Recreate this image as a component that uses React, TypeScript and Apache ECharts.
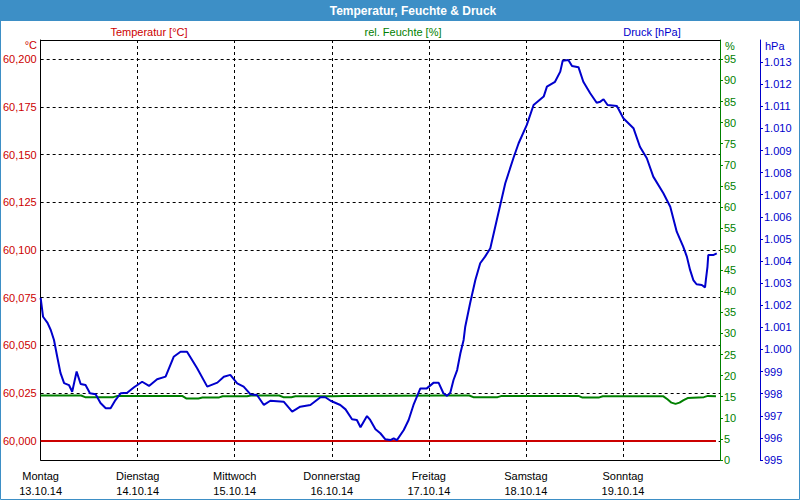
import React, { useEffect, useRef } from "react";
import * as echarts from "echarts";

const dayNames = ["Montag", "Dienstag", "Mittwoch", "Donnerstag", "Freitag", "Samstag", "Sonntag"];
const dayDates = ["13.10.14", "14.10.14", "15.10.14", "16.10.14", "17.10.14", "18.10.14", "19.10.14"];

const tempTicks = [60.0, 60.025, 60.05, 60.075, 60.1, 60.125, 60.15, 60.175, 60.2];
const humidityTicks = [0, 5, 10, 15, 20, 25, 30, 35, 40, 45, 50, 55, 60, 65, 70, 75, 80, 85, 90, 95];
const pressureTicks = [995, 996, 997, 998, 999, 1000, 1001, 1002, 1003, 1004, 1005, 1006, 1007, 1008, 1009, 1010, 1011, 1012, 1013];

// hours since Mon 13.10.14 00:00
const temperatureHours = [0, 24, 48, 72, 96, 120, 144, 167];
const temperatureValues = [60.0, 60.0, 60.0, 60.0, 60.0, 60.0, 60.0, 60.0];

const humidityHours = [0, 10, 11, 18, 19, 35, 36, 39, 40, 44, 45, 51, 52, 59, 60, 62, 63, 72, 75, 100, 106, 107, 113, 114, 128, 133, 134, 138, 139, 154, 155, 156, 157, 158, 159, 160, 164, 165, 167];
const humidityValues = [15.3, 15.3, 14.9, 14.9, 15.2, 15.2, 14.6, 14.6, 14.8, 14.8, 15.1, 15.1, 15.3, 15.3, 14.9, 14.9, 15.1, 15.1, 15.2, 15.3, 15.3, 14.9, 14.9, 15.2, 15.2, 15.2, 14.8, 14.8, 15.1, 15.1, 14.4, 13.6, 13.3, 13.6, 14.2, 14.7, 14.9, 15.2, 15.1];

const pressureHours = [
  0, 0.6, 1.7, 2.5, 3.3, 4.1, 4.9, 5.8, 7.0, 7.8,
  8.9, 9.9, 11.1, 12.2, 13.6, 14.8, 16.1, 17.3, 18.5, 19.8,
  21.4, 23.1, 25.1, 26.8, 28.8, 30.9, 32.9, 34.6, 36.2, 38.7,
  41.2, 43.7, 45.3, 46.9, 48.6, 50.2, 51.9, 53.5, 55.2, 56.8,
  60.1, 62.2, 64.2, 66.7, 69.2, 70.4, 71.7, 74.1, 75.4, 77.0,
  78.2, 79.1, 80.7, 81.5, 82.8, 84.0, 85.2, 86.5, 87.3, 88.1,
  89.8, 91.0, 92.2, 93.9, 95.5, 97.2, 98.4, 99.6, 100.5, 101.3,
  102.1, 103.0, 103.8, 104.6, 105.0, 106.2, 107.5, 108.7, 109.9, 111.2,
  112.8, 114.9, 116.9, 118.2, 120.2, 121.9, 124.4, 125.2, 127.2, 128.5,
  129.1, 130.5, 131.4, 133.0, 134.2, 135.9, 137.5, 138.4, 139.2, 140.2,
  142.5, 144.1, 146.6, 148.2, 149.9, 151.5, 154.0, 155.7, 157.3, 158.9,
  159.8, 160.6, 161.4, 162.2, 163.5, 164.3, 164.5, 164.9, 165.1, 166.3, 167.2,
];
const pressureValues = [
  1002.33, 1001.48, 1001.2, 1000.88, 1000.43, 999.67, 998.94, 998.48, 998.39, 998.09,
  999.0, 998.44, 998.39, 998.02, 997.97, 997.58, 997.34, 997.34, 997.71, 998.02,
  998.04, 998.29, 998.54, 998.35, 998.65, 998.77, 999.67, 999.9, 999.9, 999.15,
  998.32, 998.5, 998.77, 998.85, 998.47, 998.32, 997.97, 997.94, 997.49, 997.68,
  997.64, 997.19, 997.41, 997.49, 997.84, 997.84, 997.68, 997.49, 997.29, 996.84,
  996.81, 996.48, 996.99, 996.81, 996.39, 996.21, 995.94, 995.9, 995.98, 995.9,
  996.36, 996.81, 997.49, 998.24, 998.24, 998.5, 998.5, 998.02, 997.9, 998.04,
  998.62, 999.07, 999.83, 1000.43, 1001.03, 1002.09, 1003.14, 1003.9, 1004.2, 1004.58,
  1005.86, 1007.52, 1008.65, 1009.33, 1010.15, 1011.06, 1011.44, 1011.89, 1012.11, 1012.57,
  1013.06, 1013.1, 1012.82, 1012.77, 1012.11, 1011.59, 1011.16, 1011.21, 1011.32, 1011.06,
  1011.01, 1010.46, 1010.01, 1009.17, 1008.65, 1007.82, 1007.07, 1006.46, 1005.33, 1004.65,
  1004.2, 1003.6, 1003.14, 1002.95, 1002.92, 1002.81, 1003.14, 1003.74, 1004.27, 1004.27, 1004.35,
];

const RED = "#cc0000";
const GREEN = "#008000";
const BLUE = "#0000cc";
const BAR = "#3d8fc6";
const FONT = "Liberation Sans";

function zip(xs: number[], ys: number[]) {
  const n = Math.min(xs.length, ys.length);
  const out: number[][] = [];
  for (let i = 0; i < n; i++) out.push([xs[i], ys[i]]);
  return out;
}

export default function App() {
  const ref = useRef<HTMLDivElement>(null);
  useEffect(() => {
    if (!ref.current) return;
    const chart = echarts.init(ref.current, undefined, { renderer: "svg" });
    const option: any = {
      animation: false,
      backgroundColor: "#ffffff",
      textStyle: { fontFamily: FONT },
      grid: { left: 40, top: 40, right: 80, bottom: 40, containLabel: false },
      xAxis: [
        {
          type: "value",
          min: 0,
          max: 168,
          interval: 24,
          position: "bottom",
          axisLine: { show: true, onZero: false, lineStyle: { color: "#000", width: 1 } },
          axisTick: { show: false },
          axisLabel: {
            color: "#000",
            fontFamily: FONT,
            fontSize: 11,
            lineHeight: 15,
            margin: 8,
            showMaxLabel: false,
            formatter: (v: number) => {
              const i = Math.round(v / 24);
              if (i < 0 || i >= dayNames.length) return "";
              return dayNames[i] + "\n" + dayDates[i];
            },
          },
          splitLine: { show: true, showMinLine: false, showMaxLine: false, lineStyle: { color: "#000", type: [3, 3], width: 1 } },
        },
        {
          type: "value",
          min: 0,
          max: 168,
          position: "top",
          axisLine: { show: true, onZero: false, lineStyle: { color: "#000", width: 1 } },
          axisTick: { show: false },
          axisLabel: { show: false },
          splitLine: { show: false },
        },
      ],
      yAxis: [
        {
          type: "value",
          position: "left",
          min: 59.99,
          max: 60.21,
          axisLine: { show: true, onZero: false, lineStyle: { color: "#000", width: 1 } },
          axisTick: { show: false, customValues: tempTicks },
          axisLabel: {
            customValues: tempTicks,
            color: RED,
            fontFamily: FONT,
            fontSize: 11,
            margin: 4,
            padding: [3, 0, 0, 0],
            formatter: (v: number) => v.toFixed(3).replace(".", ","),
          },
          splitLine: { show: true, lineStyle: { color: "#000", type: [3, 3], width: 1 } },
        },
        {
          type: "value",
          position: "right",
          offset: 0,
          min: 0,
          max: 99.6,
          axisLine: { show: true, onZero: false, lineStyle: { color: GREEN, width: 1 } },
          axisTick: { show: true, customValues: humidityTicks, length: 3, lineStyle: { color: GREEN } },
          axisLabel: {
            customValues: humidityTicks,
            color: GREEN,
            fontFamily: FONT,
            fontSize: 11,
            margin: 4,
            padding: [5, 0, 0, 0],
          },
          splitLine: { show: false },
        },
        {
          type: "value",
          position: "right",
          offset: 40,
          min: 995,
          max: 1014,
          axisLine: { show: true, onZero: false, lineStyle: { color: BLUE, width: 1 } },
          axisTick: { show: true, customValues: pressureTicks, length: 3, lineStyle: { color: BLUE } },
          axisLabel: {
            customValues: pressureTicks,
            color: BLUE,
            fontFamily: FONT,
            fontSize: 11,
            margin: 4,
            padding: [3, 0, 0, 0],
            formatter: (v: number) =>
              v >= 1000 ? "1." + String(Math.round(v - 1000)).padStart(3, "0") : String(Math.round(v)),
          },
          splitLine: { show: false },
        },
      ],
      graphic: [
        { type: "rect", z: 100, shape: { x: 0, y: 0, width: 800, height: 21 }, style: { fill: BAR } },
        {
          type: "rect",
          z: 100,
          shape: { x: 0.5, y: 0.5, width: 799, height: 499 },
          style: { fill: "none", stroke: BAR, lineWidth: 1 },
        },
        {
          type: "text",
          z: 101,
          x: 413,
          y: 10.5,
          style: {
            text: "Temperatur, Feuchte & Druck",
            fill: "#ffffff",
            font: "bold 12px 'Liberation Sans'",
            align: "center",
            verticalAlign: "middle",
          },
        },
        {
          type: "text",
          x: 149,
          y: 32,
          style: { text: "Temperatur [°C]", fill: RED, font: "11px 'Liberation Sans'", align: "center", verticalAlign: "middle" },
        },
        {
          type: "text",
          x: 403,
          y: 32,
          style: { text: "rel. Feuchte [%]", fill: GREEN, font: "11px 'Liberation Sans'", align: "center", verticalAlign: "middle" },
        },
        {
          type: "text",
          x: 652,
          y: 32,
          style: { text: "Druck [hPa]", fill: BLUE, font: "11px 'Liberation Sans'", align: "center", verticalAlign: "middle" },
        },
        {
          type: "text",
          x: 37,
          y: 45,
          style: { text: "°C", fill: RED, font: "11px 'Liberation Sans'", align: "right", verticalAlign: "middle" },
        },
        {
          type: "text",
          x: 725,
          y: 46,
          style: { text: "%", fill: GREEN, font: "11px 'Liberation Sans'", align: "left", verticalAlign: "middle" },
        },
        {
          type: "text",
          x: 765,
          y: 46,
          style: { text: "hPa", fill: BLUE, font: "11px 'Liberation Sans'", align: "left", verticalAlign: "middle" },
        },
      ],
      series: [
        {
          name: "Temperatur",
          type: "line",
          xAxisIndex: 0,
          yAxisIndex: 0,
          data: zip(temperatureHours, temperatureValues),
          showSymbol: false,
          symbol: "none",
          lineStyle: { color: RED, width: 2 },
          itemStyle: { color: RED },
          z: 3,
        },
        {
          name: "rel. Feuchte",
          type: "line",
          xAxisIndex: 0,
          yAxisIndex: 1,
          data: zip(humidityHours, humidityValues),
          showSymbol: false,
          symbol: "none",
          lineStyle: { color: GREEN, width: 2 },
          itemStyle: { color: GREEN },
          z: 4,
        },
        {
          name: "Druck",
          type: "line",
          xAxisIndex: 0,
          yAxisIndex: 2,
          data: zip(pressureHours, pressureValues),
          showSymbol: false,
          symbol: "none",
          lineStyle: { color: BLUE, width: 2 },
          itemStyle: { color: BLUE },
          z: 5,
        },
      ],
    };
    chart.setOption(option);
    return () => chart.dispose();
  }, []);
  return (
    <div
      ref={ref}
      style={{ position: "absolute", left: 0, top: 0, width: 800, height: 500, background: "#fff" }}
    />
  );
}
